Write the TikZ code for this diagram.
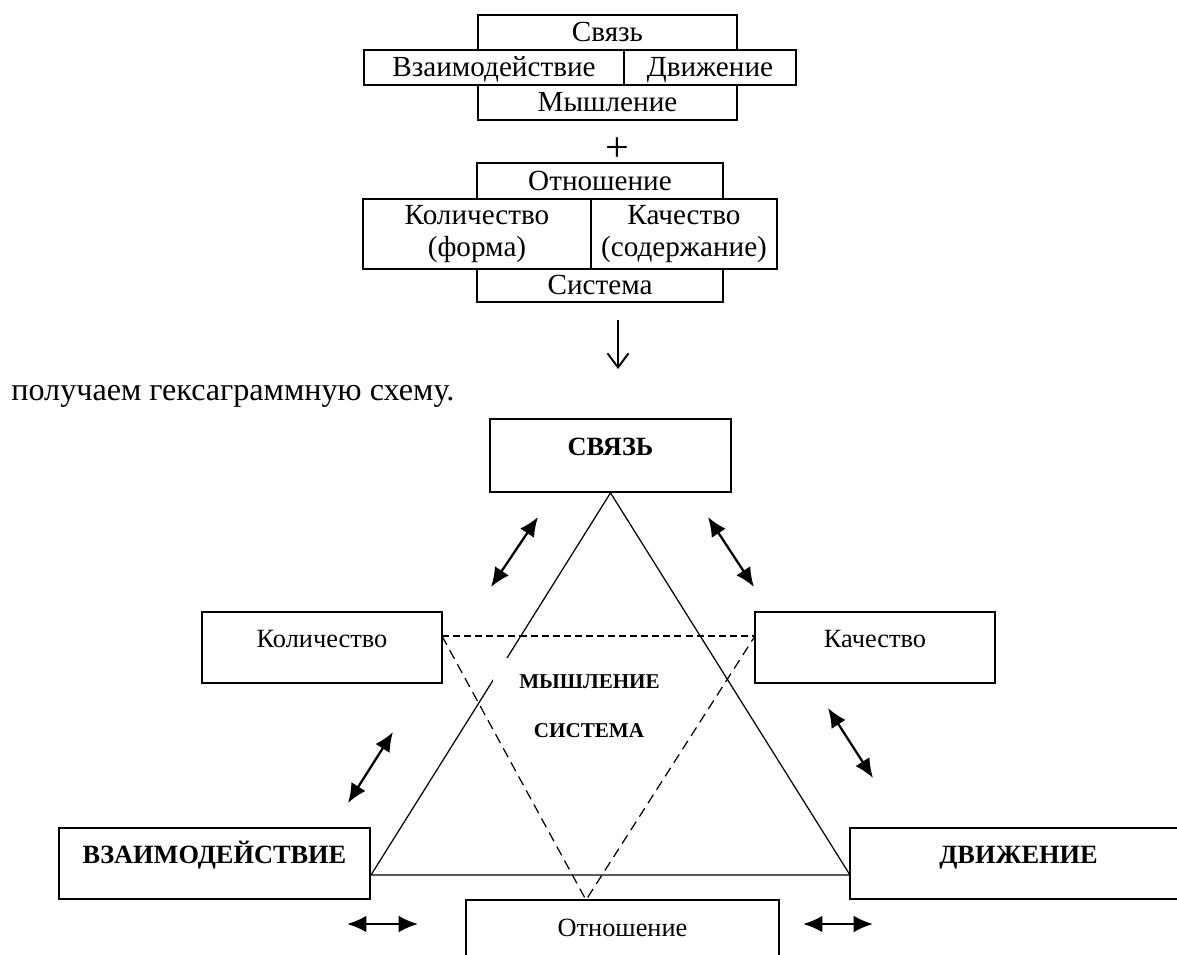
\documentclass[tikz,border=0pt]{standalone}
\usepackage{fontspec}
\setmainfont{Liberation Serif}
\usetikzlibrary{arrows.meta}

\newcommand\tblfont{\fontsize{16.6}{18.7}\selectfont}
\newcommand\introfont{\fontsize{18.3}{21}\selectfont}
\newcommand\boxfont{\fontsize{15}{18}\selectfont}
\newcommand\ctrfont{\fontsize{12}{14}\selectfont\bfseries}

\tikzset{
	tbl/.style={draw, line width=1pt, inner sep=0pt, minimum height=0.7cm, font=\tblfont, text height=14pt, text depth=3.6pt},
	tbltwo/.style={draw, line width=1pt, inner sep=0pt, minimum height=1.4cm, font=\tblfont, align=center},
	bigbox/.style={draw, line width=1pt, inner sep=0pt, minimum height=1.42cm, font=\boxfont, text height=12pt, text depth=12pt},
	ctr/.style={inner sep=0pt, font=\ctrfont, text height=9pt, text depth=2.2pt},
	tri/.style={line width=0.7pt},
	dashh/.style={line width=1.1pt, dash pattern=on 4pt off 2.3pt},
	dashs/.style={line width=0.7pt, dash pattern=on 5.7pt off 3.4pt},
	dblarr/.style={line width=1.3pt, {Latex[length=11pt,width=9.5pt]}-{Latex[length=11pt,width=9.5pt]}},
	downarr/.style={line width=1.1pt, -{Straight Barb[length=8pt,width=12pt]}}
}

\begin{document}
\begin{tikzpicture}[x=0.02cm, y=-0.02cm]
	\useasboundingbox (0,0) rectangle (1177,954);
	\node[tbl, minimum width=5.18cm] (svyaz) at (607.5,32.5) {Связь};
	\node[tbl, minimum width=5.2cm] (vzaim) at (494,67.5) {Взаимодействие};
	\node[tbl, minimum width=3.44cm] (dvizh) at (710,67.5) {Движение};
	\node[tbl, minimum width=5.18cm] (mysh) at (607.5,102.5) {Мышление};
	\node[font=\fontsize{24}{26}\selectfont, inner sep=0pt] (plus) at (617,150) {+};
	\node[tbl, minimum width=4.92cm, minimum height=0.72cm] (otnosh) at (600,181) {Отношение};
	\node[tbltwo, minimum width=4.56cm] (kolich) at (477,234) {Количество\\(форма)};
	\node[tbltwo, minimum width=3.72cm] (kachest) at (684,234) {Качество\\(содержание)};
	\node[tbl, minimum width=4.92cm, minimum height=0.66cm] (sistema) at (600,285.5) {Система};
	\coordinate (downtop) at (618,320);
	\coordinate (downbot) at (618,369);
	\draw[downarr] (downtop) -- (downbot);
	\node[font=\introfont, inner sep=0pt, anchor=base west] (intro) at (11,400) {получаем гексаграммную схему.};

	\node[bigbox, minimum width=4.82cm, minimum height=1.46cm] (bsvyaz) at (610.5,455.5) {\textbf{СВЯЗЬ}};
	\node[bigbox, minimum width=4.8cm] (bkolich) at (322,647.5) {Количество};
	\node[bigbox, minimum width=4.8cm] (bkachest) at (875,647.5) {Качество};
	\node[bigbox, minimum width=6.22cm] (bvzaim) at (214.5,863.5) {\textbf{ВЗАИМОДЕЙСТВИЕ}};
	\node[bigbox, minimum width=6.74cm] (bdvizh) at (1018.5,863.5) {\textbf{ДВИЖЕНИЕ}};
	\node[bigbox, minimum width=6.26cm, minimum height=1.44cm] (botnosh) at (622.5,936) {Отношение};
	\coordinate (triL) at (371,875);
	\coordinate (triR) at (850,875);
	\draw[tri] (bsvyaz.south) -- (triL) -- (triR) -- cycle;
	\coordinate (dashL) at (442,636);
	\coordinate (dashR) at (755,636);
	\coordinate (dashB) at (586,900);
	\draw[dashh] (dashL) -- (dashR);
	\draw[dashs] (dashL) -- (dashB) -- (dashR);
	\node[ctr, fill=white, minimum width=3.86cm, minimum height=1cm] (cmysh) at (589.5,683) {МЫШЛЕНИЕ};
	\node[ctr] (csist) at (589,732) {СИСТЕМА};

	\coordinate (a1) at (491,587);
	\coordinate (b1) at (538,517);
	\coordinate (a2) at (708,517);
	\coordinate (b2) at (754,587);
	\coordinate (a3) at (348,803);
	\coordinate (b3) at (393,732);
	\coordinate (a4) at (828,708);
	\coordinate (b4) at (873,778);
	\coordinate (a5) at (347,924);
	\coordinate (b5) at (418,924);
	\coordinate (a6) at (803,924);
	\coordinate (b6) at (873,924);
	\draw[dblarr] (a1) -- (b1);
	\draw[dblarr] (a2) -- (b2);
	\draw[dblarr] (a3) -- (b3);
	\draw[dblarr] (a4) -- (b4);
	\draw[dblarr] (a5) -- (b5);
	\draw[dblarr] (a6) -- (b6);
\end{tikzpicture}
\end{document}
